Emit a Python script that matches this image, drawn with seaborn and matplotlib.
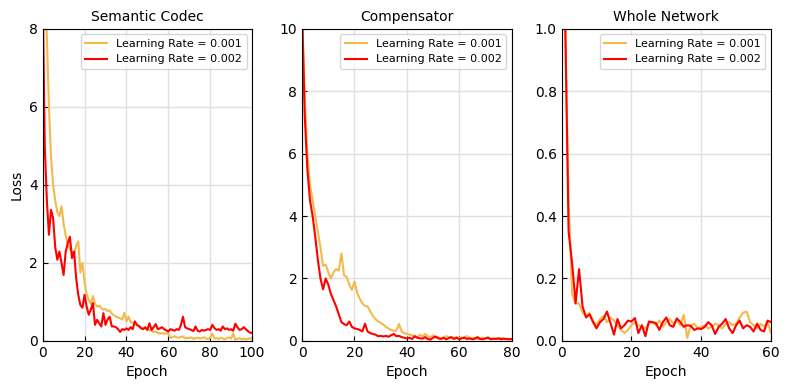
import numpy as np
import pandas as pd
import seaborn as sns
import matplotlib
matplotlib.use("Agg")
import matplotlib.pyplot as plt

# loss values, one value per epoch
codec_lr1 = [11.0, 9.5, 7.8, 6.0, 4.7, 4.0, 3.6, 3.3, 3.2, 3.45,
             3.0, 2.7, 2.45, 2.35, 2.3, 2.2, 2.45, 2.55, 1.75, 2.0,
             1.5, 1.2, 1.05, 0.95, 1.15, 0.95, 0.88, 0.9, 0.84, 0.8,
             0.82, 0.76, 0.78, 0.7, 0.66, 0.62, 0.6, 0.58, 0.55, 0.72,
             0.5, 0.62, 0.48, 0.46, 0.44, 0.4, 0.37, 0.34, 0.33, 0.32,
             0.3, 0.28, 0.26, 0.22, 0.24, 0.2, 0.19, 0.2, 0.18, 0.19,
             0.19, 0.07, 0.1, 0.12, 0.09, 0.08, 0.1, 0.11, 0.06, 0.08,
             0.07, 0.09, 0.05, 0.07, 0.08, 0.06, 0.07, 0.09, 0.06, 0.05,
             0.08, 0.19, 0.06, 0.07, 0.05, 0.08, 0.06, 0.04, 0.07, 0.09,
             0.06, 0.19, 0.03, 0.05, 0.07, 0.04, 0.06, 0.04, 0.05, 0.07,
             0.05]
codec_lr2 = [9.0, 5.0, 3.6, 2.72, 3.36, 3.14, 2.4, 2.08, 2.29, 2.0,
             1.69, 2.29, 2.5, 2.67, 2.12, 2.29, 1.6, 1.18, 0.92, 0.85,
             1.18, 0.88, 0.67, 0.8, 0.97, 0.41, 0.54, 0.45, 0.37, 0.71,
             0.41, 0.55, 0.62, 0.37, 0.37, 0.35, 0.3, 0.23, 0.3, 0.28,
             0.32, 0.28, 0.35, 0.3, 0.5, 0.41, 0.38, 0.32, 0.3, 0.35,
             0.28, 0.45, 0.28, 0.35, 0.43, 0.3, 0.32, 0.35, 0.3, 0.27,
             0.24, 0.3, 0.28, 0.26, 0.3, 0.28, 0.4, 0.62, 0.35, 0.32,
             0.3, 0.28, 0.25, 0.37, 0.26, 0.24, 0.28, 0.26, 0.28, 0.3,
             0.28, 0.41, 0.33, 0.28, 0.3, 0.26, 0.37, 0.3, 0.32, 0.28,
             0.3, 0.26, 0.44, 0.35, 0.28, 0.3, 0.35, 0.3, 0.25, 0.21,
             0.2]

comp_lr1 = [10.5, 7.8, 6.0, 5.0, 4.5, 4.0, 3.5, 3.0, 2.4, 2.45,
            2.2, 2.0, 2.2, 2.3, 2.25, 2.8, 2.1, 2.05, 1.8, 1.63,
            1.9, 1.55, 1.35, 1.2, 1.12, 1.1, 0.95, 0.8, 0.7, 0.62,
            0.58, 0.52, 0.45, 0.4, 0.35, 0.32, 0.33, 0.54, 0.3, 0.25,
            0.22, 0.2, 0.18, 0.15, 0.12, 0.2, 0.14, 0.22, 0.15, 0.12,
            0.18, 0.1, 0.12, 0.08, 0.1, 0.15, 0.12, 0.08, 0.1, 0.12,
            0.08, 0.1, 0.12, 0.15, 0.1, 0.08, 0.1, 0.06, 0.08, 0.1,
            0.07, 0.12, 0.08, 0.05, 0.08, 0.06, 0.1, 0.07, 0.05, 0.06,
            0.04]
comp_lr2 = [10.5, 7.2, 5.5, 4.5, 4.0, 3.35, 2.6, 2.0, 1.65, 2.0,
            1.8, 1.5, 1.3, 1.1, 0.85, 0.6, 0.54, 0.5, 0.62, 0.45,
            0.4, 0.38, 0.35, 0.3, 0.55, 0.3, 0.25, 0.22, 0.2, 0.15,
            0.16, 0.14, 0.16, 0.13, 0.18, 0.22, 0.15, 0.16, 0.12, 0.1,
            0.08, 0.1, 0.06, 0.15, 0.1, 0.08, 0.07, 0.12, 0.06, 0.04,
            0.1, 0.14, 0.08, 0.06, 0.1, 0.05, 0.09, 0.12, 0.06, 0.1,
            0.05, 0.08, 0.1, 0.06, 0.08, 0.05, 0.07, 0.12, 0.06, 0.05,
            0.08, 0.1, 0.05, 0.07, 0.06, 0.08, 0.05, 0.07, 0.06, 0.05,
            0.06]

whole_lr1 = [1.3, 1.0, 0.45, 0.15, 0.12, 0.12, 0.09, 0.08, 0.09, 0.065,
             0.05, 0.07, 0.08, 0.06, 0.075, 0.065, 0.05, 0.035, 0.025, 0.035,
             0.05, 0.06, 0.05, 0.045, 0.04, 0.055, 0.06, 0.05, 0.065, 0.045,
             0.06, 0.07, 0.055, 0.065, 0.05, 0.083, 0.009, 0.05, 0.055, 0.04,
             0.045, 0.05, 0.04, 0.045, 0.055, 0.05, 0.04, 0.055, 0.06, 0.05,
             0.055, 0.075, 0.09, 0.094, 0.06, 0.05, 0.04, 0.055, 0.045, 0.06,
             0.025]
whole_lr2 = [1.3, 1.05, 0.35, 0.25, 0.12, 0.23, 0.11, 0.075, 0.085, 0.06,
             0.04, 0.06, 0.07, 0.094, 0.057, 0.02, 0.07, 0.04, 0.05, 0.065,
             0.062, 0.073, 0.025, 0.05, 0.015, 0.062, 0.06, 0.057, 0.035, 0.06,
             0.075, 0.05, 0.045, 0.072, 0.06, 0.045, 0.05, 0.048, 0.035, 0.04,
             0.038, 0.045, 0.06, 0.05, 0.022, 0.045, 0.055, 0.07, 0.04, 0.025,
             0.05, 0.065, 0.04, 0.05, 0.045, 0.03, 0.055, 0.035, 0.03, 0.065,
             0.06]

titles = ["Semantic Codec", "Compensator", "Whole Network"]
labels = ["Learning Rate = 0.001", "Learning Rate = 0.002"]
xmax = [100, 80, 60]
ymax = [8, 10, 1.0]
ystep = [2, 2, 0.2]
series = [(codec_lr1, codec_lr2), (comp_lr1, comp_lr2), (whole_lr1, whole_lr2)]

fig, axes = plt.subplots(1, 3, figsize=(7.9, 3.9), dpi=100)
fig.subplots_adjust(left=0.054, right=0.976, bottom=0.126, top=0.926, wspace=0.239)

for i, ax in enumerate(axes):
    lr1, lr2 = series[i]
    df = pd.DataFrame({
        "Epoch": list(range(len(lr1))) + list(range(len(lr2))),
        "Loss": lr1 + lr2,
        "lr": [labels[0]] * len(lr1) + [labels[1]] * len(lr2),
    })
    sns.lineplot(data=df, x="Epoch", y="Loss", hue="lr",
                 palette=["#f4b94a", "#ff0000"], linewidth=1.5, ax=ax)
    ax.set_xlim(0, xmax[i])
    ax.set_ylim(0, ymax[i])
    ax.set_yticks(np.arange(0, ymax[i] + ystep[i] / 2, ystep[i]))
    ax.set_title(titles[i], fontsize=10)
    ax.set_xlabel("Epoch", fontsize=10)
    ax.set_ylabel("Loss" if i == 0 else "", fontsize=10)
    ax.grid(True, color="#e0e0e0", linewidth=1)
    ax.set_axisbelow(True)
    ax.tick_params(direction="in", labelsize=10)
    ax.legend(loc="upper right", fontsize=8, framealpha=0.8)

fig.savefig("out.png", dpi=100)
